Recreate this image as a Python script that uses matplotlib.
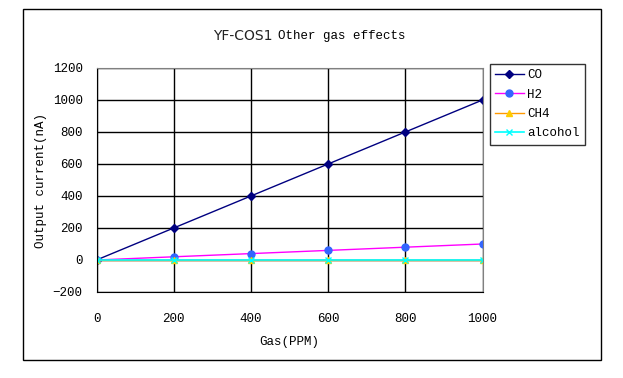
import matplotlib.pyplot as plt
from matplotlib.patches import Rectangle

gas = [0, 200, 400, 600, 800, 1000]
co = [0, 200, 400, 600, 800, 1000]
h2 = [0, 20, 40, 60, 80, 100]
ch4 = [0, 0, 0, 0, 0, 0]
alcohol = [0, 0, 0, 0, 0, 0]

mono = "Liberation Mono"

fig = plt.figure(figsize=(6.23, 3.78), dpi=100)
# outer chart frame
fig.patches.append(Rectangle((23 / 623, 1 - 360 / 378), 578 / 623, 351 / 378,
                             transform=fig.transFigure, fill=False,
                             edgecolor="black", linewidth=1))

ax = fig.add_axes([96.5 / 623, 1 - 292 / 378, 386 / 623, 224 / 378])
ax.plot(gas, co, color="#000080", marker="D", markersize=4, linewidth=1, label="CO")
ax.plot(gas, h2, color="#FF00FF", marker="o", markersize=5, markerfacecolor="#3366FF",
        markeredgecolor="#3366FF", linewidth=1, label="H2")
ax.plot(gas, ch4, color="#FF9900", marker="^", markersize=5, markerfacecolor="#FFCC00",
        markeredgecolor="#FFCC00", linewidth=1, label="CH4")
ax.plot(gas, alcohol, color="#00FFFF", marker="x", markersize=5, linewidth=1.2, label="alcohol")

ax.set_xlim(0, 1000)
ax.set_ylim(-200, 1200)
ax.set_xticks(gas)
ax.set_yticks(range(-200, 1201, 200))
ax.grid(True, color="black", linewidth=1)
ax.set_axisbelow(True)
ax.tick_params(length=0, labelsize=9)
ax.tick_params(axis="x", pad=15)
ax.tick_params(axis="y", pad=10)
for lab in ax.get_xticklabels() + ax.get_yticklabels():
    lab.set_fontfamily(mono)
ax.spines["top"].set_color("gray")
ax.spines["right"].set_color("gray")

ax.set_xlabel("Gas(PPM)", fontfamily=mono, fontsize=9, labelpad=8)
ax.set_ylabel("Output current(nA)", fontfamily=mono, fontsize=9, labelpad=4)
fig.text(273 / 623, 1 - 36 / 378, "YF-COS1", ha="right", va="center", fontsize=10,
         fontfamily="DejaVu Sans", color="#222222")
fig.text(278 / 623, 1 - 36 / 378, "Other gas effects", ha="left", va="center", fontsize=9,
         fontfamily=mono)

leg = fig.legend(loc="upper left", bbox_to_anchor=(490 / 623, 1 - 64 / 378),
                 prop={"family": mono, "size": 9}, frameon=True, fancybox=False,
                 edgecolor="black", borderpad=0.4, borderaxespad=0, handlelength=2.3,
                 handletextpad=0.3, labelspacing=0.6)
leg.get_frame().set_linewidth(1)

fig.savefig("out.png", dpi=100)
